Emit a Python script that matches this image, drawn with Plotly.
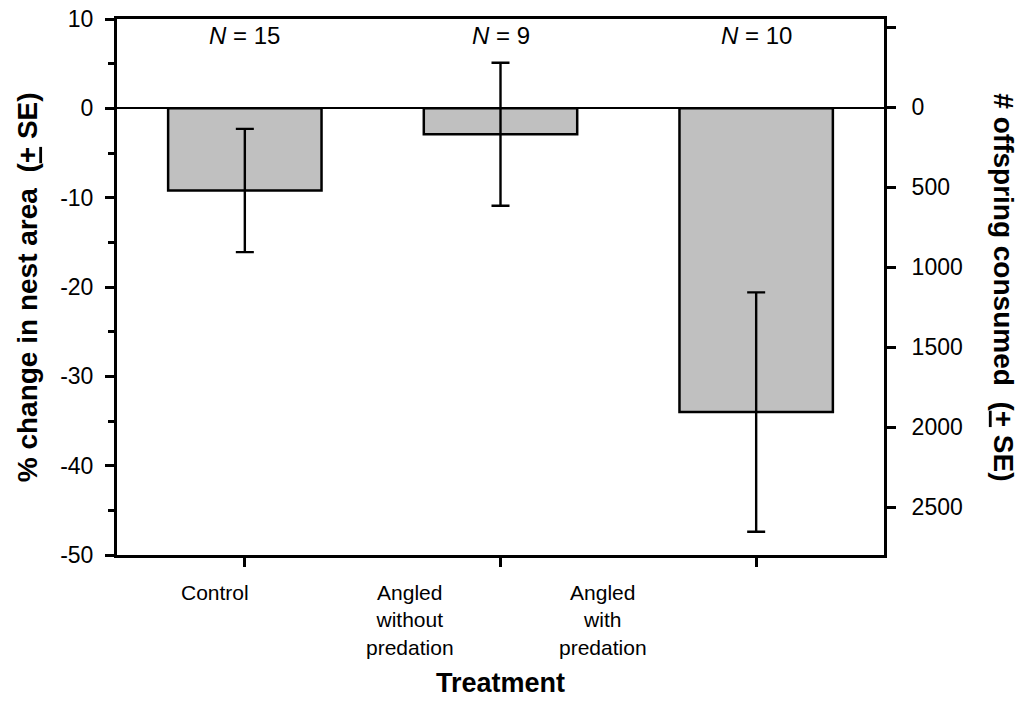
import plotly.graph_objects as go

categories = ["Control", "Angled<br>without<br>predation", "Angled<br>with<br>predation"]
pct_change = [-9.2, -2.9, -34.0]
pct_se = [6.9, 8.0, 13.4]
n_labels = ["15", "9", "10"]
left_ticks = [10, 0, -10, -20, -30, -40, -50]
left_ticktext = ["10", "0", "-10", "-20", "-30", "-40", "-50"]
right_ticks = [-500, 0, 500, 1000, 1500, 2000, 2500]
right_ticktext = ["", "0", "500", "1000", "1500", "2000", "2500"]

FONT = "Liberation Sans, Arial, sans-serif"
xpos = list(range(len(categories)))

fig = go.Figure()
fig.add_trace(go.Bar(
    x=xpos, y=pct_change, width=0.6,
    marker=dict(color="#c0c0c0", line=dict(color="black", width=2.5)),
    error_y=dict(type="data", array=pct_se, visible=True, color="black",
                 thickness=2.4, width=9),
    showlegend=False,
))
# invisible trace for right axis
fig.add_trace(go.Scatter(x=[0], y=[0], yaxis="y2", mode="markers",
                         marker=dict(opacity=0), showlegend=False, hoverinfo="skip"))

fig.update_layout(
    width=1029, height=714,
    margin=dict(l=109, r=153, t=11, b=167, autoexpand=False),
    plot_bgcolor="white", paper_bgcolor="white",
    font=dict(family=FONT, size=21, color="black"),
    xaxis=dict(range=[-0.5, 2.5], tickvals=xpos, ticktext=["", "", ""],
               ticks="outside", ticklen=9, tickwidth=2.5, tickcolor="black",
               showline=True, linecolor="black", linewidth=3, mirror=True,
               showgrid=False, zeroline=False, automargin=False),
    yaxis=dict(range=[-50, 10], tickvals=left_ticks, ticktext=left_ticktext,
               ticks="outside", ticklen=9, tickwidth=2.5, tickcolor="black",
               minor=dict(dtick=5, ticks="outside", ticklen=6, tickwidth=2.5, tickcolor="black"),
               showline=True, linecolor="black", linewidth=3,
               showgrid=False, zeroline=True, zerolinecolor="black", zerolinewidth=1.8,
               tickfont=dict(size=23), ticklabelstandoff=7, automargin=False,
               ticklabeloverflow="allow"),
    yaxis2=dict(range=[2798, -552], overlaying="y", side="right",
                tickvals=right_ticks, ticktext=right_ticktext,
                ticks="outside", ticklen=9, tickwidth=2.5, tickcolor="black",
                showline=True, linecolor="black", linewidth=3,
                showgrid=False, zeroline=False, tickfont=dict(size=23),
                ticklabelstandoff=11, automargin=False, ticklabeloverflow="allow"),
)

# N labels above bars
for i, n in enumerate(n_labels):
    fig.add_annotation(x=xpos[i], y=8.2, xref="x", yref="y", text=f"<i>N</i> = {n}",
                       showarrow=False, xanchor="center", font=dict(size=24))

# category labels (offset as in reference)
label_px = [0.128, 0.382, 0.634]
for lx, c in zip(label_px, categories):
    fig.add_annotation(x=lx, y=-0.045, xref="paper", yref="paper", text=c,
                       showarrow=False, xanchor="center", yanchor="top", align="center",
                       font=dict(size=21))

fig.add_annotation(x=0.5, y=-0.208, xref="paper", yref="paper", text="<b>Treatment</b>",
                   showarrow=False, xanchor="center", yanchor="top", font=dict(size=27))

fig.add_annotation(x=-0.117, y=0.5, xref="paper", yref="paper",
                   text="<b>% change in nest area&nbsp;&nbsp;(<u>+</u> SE)</b>",
                   showarrow=False, xanchor="center", yanchor="middle",
                   textangle=-90, font=dict(size=28))

fig.add_annotation(x=1.156, y=0.5, xref="paper", yref="paper",
                   text="<b># offspring consumed&nbsp;&nbsp;(<u>+</u> SE)</b>",
                   showarrow=False, xanchor="center", yanchor="middle",
                   textangle=90, font=dict(size=28))

fig.write_html("out.html")
